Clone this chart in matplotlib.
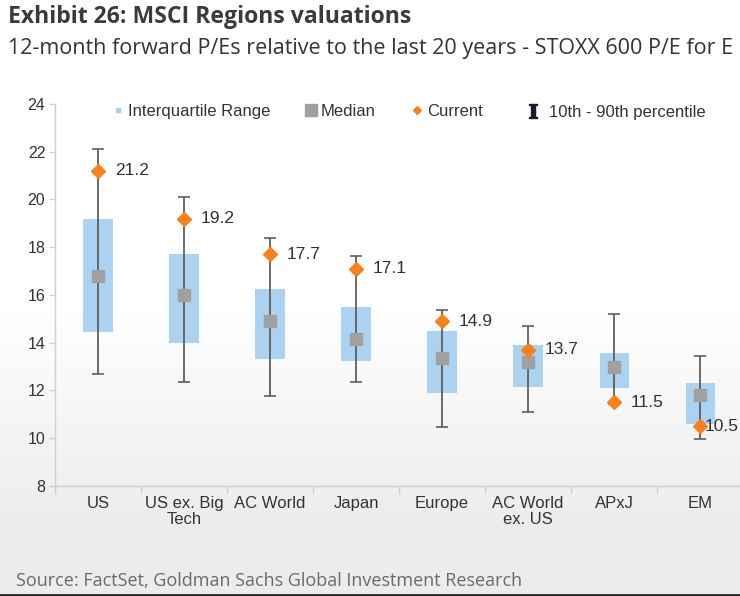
import numpy as np
import matplotlib
matplotlib.use("Agg")
from matplotlib import pyplot as plt
from matplotlib.lines import Line2D

plt.rcParams["mathtext.fontset"] = "dejavuserif"

# values (12m fwd P/E)
regions = ["US", "US ex. Big\nTech", "AC World", "Japan", "Europe", "AC World\nex. US", "APxJ", "EM"]
p10 = [12.7, 12.35, 11.75, 12.35, 10.45, 11.1, 11.45, 9.95]
p90 = [22.1, 20.1, 18.4, 17.65, 15.35, 14.7, 15.2, 13.45]
q1 = [14.45, 14.0, 13.3, 13.25, 11.9, 12.15, 12.1, 10.6]
q3 = [19.2, 17.7, 16.25, 15.5, 14.5, 13.9, 13.55, 12.3]
median = [16.8, 16.0, 14.9, 14.15, 13.35, 13.2, 13.0, 11.8]
current = [21.2, 19.2, 17.7, 17.1, 14.9, 13.7, 11.5, 10.5]

blue = "#abd2f0"
grey = "#a0a0a0"
orange = "#f5821f"
whisk = "#5f5f5f"
txt = "#333333"

fig = plt.figure(figsize=(7.4, 5.96), dpi=100)

# background: white fading into light grey towards the bottom
bg = fig.add_axes([0, 0, 1, 1], zorder=-10)
rows = np.linspace(0, 1, 596)
shade = np.clip((rows - 300 / 596) / (220 / 596), 0, 1)
col = 1.0 - shade * (1.0 - 0.925)
grad = np.repeat(col[:, None], 2, axis=1)
bg.imshow(grad, cmap="gray", vmin=0, vmax=1, aspect="auto", extent=[0, 1, 0, 1])
bg.set_axis_off()
bg.axhline(0.002, color="#222222", lw=2)

ax = fig.add_axes([0.0743, 0.1846, 0.93, 0.641])
ax.patch.set_alpha(0)

x = np.arange(len(regions))
lo = np.array(q1)
hi = np.array(q3)
ax.bar(x, hi - lo, bottom=lo, width=0.34, color=blue, zorder=2)
med = np.array(median)
ax.errorbar(x, med, yerr=[med - np.array(p10), np.array(p90) - med], fmt="none",
            ecolor=whisk, elinewidth=1.3, capsize=4.5, capthick=1.2, zorder=3)
ax.plot(x, med, "s", color=grey, markersize=8, zorder=4)
ax.plot(x, current, "D", color=orange, markersize=7, zorder=5)

for i, v in enumerate(current):
    dx = 3 if i == len(current) - 1 else 12
    ax.annotate(f"{v:.1f}", (x[i], v), xytext=(dx, 0), textcoords="offset points",
                va="center", ha="left", fontsize=12.5, color=txt, family="Liberation Sans",
                zorder=6)

ax.set_xlim(-0.5, len(regions) - 0.5)
ax.set_ylim(8, 24)
ax.set_yticks(np.arange(8, 25, 2))
ax.set_xticks(x)
ax.set_xticklabels(regions, fontsize=12, color=txt, family="Liberation Sans", linespacing=1.1)
ax.set_xticks(np.arange(-0.5, len(regions), 1), minor=True)
ax.tick_params(axis="x", which="major", length=0, pad=7)
ax.tick_params(axis="x", which="minor", length=6, color="#d0d0d0", width=1)
ax.tick_params(axis="y", length=4, color="#d0d0d0", width=1, pad=3, labelsize=11.5, labelcolor=txt)
for lab in ax.get_yticklabels():
    lab.set_family("Liberation Sans")
for s in ["top", "right"]:
    ax.spines[s].set_visible(False)
for s in ["left", "bottom"]:
    ax.spines[s].set_color("#d0d0d0")
    ax.spines[s].set_linewidth(1)

# legend, in two parts so the percentile entry sits a bit further right
handles = [
    Line2D([], [], marker="s", color=blue, ls="none", markersize=3.5),
    Line2D([], [], marker="s", color=grey, ls="none", markersize=8),
    Line2D([], [], marker="D", color=orange, ls="none", markersize=4),
]
labels = ["Interquartile Range", "Median", "Current"]
leg = fig.legend(handles, labels, loc="center left", bbox_to_anchor=(0.13, 0.813), ncol=3,
                 frameon=False, handlelength=0.8, handletextpad=0.2, columnspacing=2.05,
                 prop={"family": "Liberation Sans", "size": 12})
for t in leg.get_texts():
    t.set_color(txt)
pct = Line2D([], [], marker=r"$\mathbf{I}$", color="#1a1a2e", ls="none", markersize=10)
leg2 = fig.legend([pct], ["10th - 90th percentile"], loc="center left",
                  bbox_to_anchor=(0.691, 0.811), frameon=False, handlelength=0.8,
                  handletextpad=0.55, prop={"family": "Liberation Sans", "size": 12})
for t in leg2.get_texts():
    t.set_color(txt)

fig.text(0.011, 0.971, "Exhibit 26: MSCI Regions valuations", fontsize=16.6, fontweight="bold",
         color="#3b3b3b", family="Open Sans", va="center", ha="left")
fig.text(0.011, 0.918, "12-month forward P/Es relative to the last 20 years - STOXX 600 P/E for E",
         fontsize=15.5, color="#333333", family="Open Sans", va="center", ha="left")
fig.text(0.021, 0.025, "Source: FactSet, Goldman Sachs Global Investment Research",
         fontsize=13, color="#6a6a6a", family="Open Sans", va="center", ha="left")

fig.savefig("out.png", dpi=100)
